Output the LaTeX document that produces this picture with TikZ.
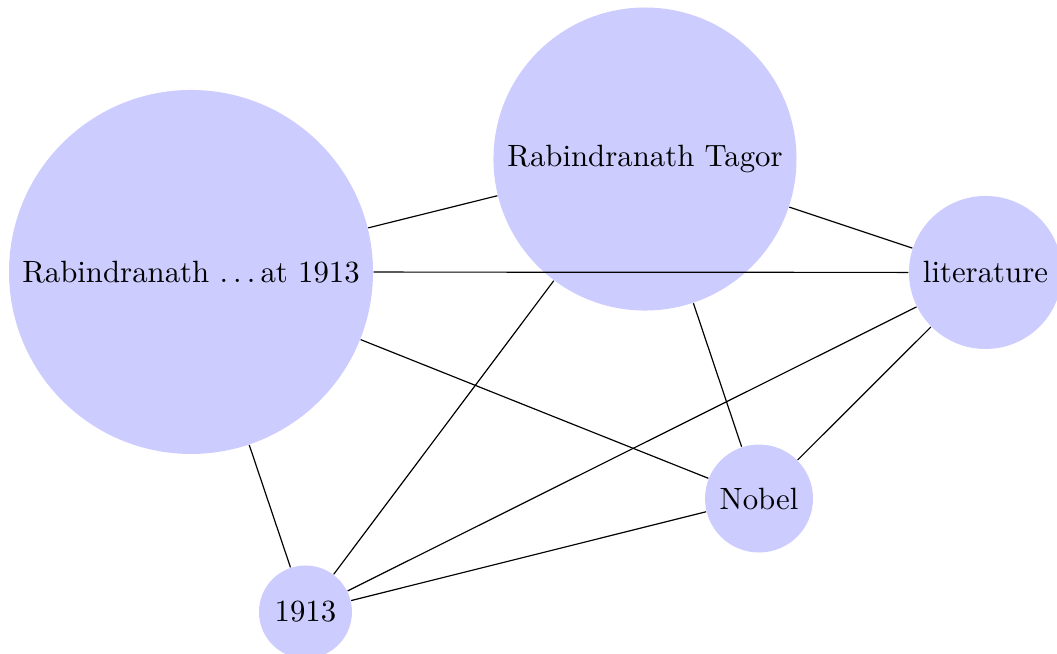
\documentclass[tikz,border=0pt]{standalone}
\usepackage{tikz}
\usetikzlibrary{positioning}

\newcommand{\dotsgap}{.\kern\fontdimen3\font.\kern\fontdimen3\font.\kern\fontdimen3\font}

\tikzset{
    topic/.style={circle, fill=blue!20, inner sep=0pt, text=black,
        font=\fontsize{10.4}{12.5}\selectfont},
}

\begin{document}
\begin{tikzpicture}
    % Khung hình
    \useasboundingbox (0,0) rectangle (12.55,-7.765);

    % Các đỉnh
    \node[topic, minimum size=4.322cm] (rabi) at (2.268,-3.229) {Rabindranath \dotsgap at 1913};
    \node[topic, minimum size=3.598cm] (tagor) at (7.658,-1.888) {Rabindranath Tagor};
    \node[topic, minimum size=1.817cm] (lit) at (11.701,-3.235) {literature};
    \node[topic, minimum size=1.282cm] (nobel) at (9.012,-5.919) {Nobel};
    \node[topic, minimum size=1.104cm] (year) at (3.627,-7.266) {1913};

    % Các cạnh
    \draw (rabi) -- (tagor);
    \draw (rabi) -- (lit);
    \draw (rabi) -- (nobel);
    \draw (rabi) -- (year);
    \draw (tagor) -- (lit);
    \draw (tagor) -- (nobel);
    \draw (tagor) -- (year);
    \draw (lit) -- (nobel);
    \draw (lit) -- (year);
    \draw (nobel) -- (year);
\end{tikzpicture}
\end{document}
